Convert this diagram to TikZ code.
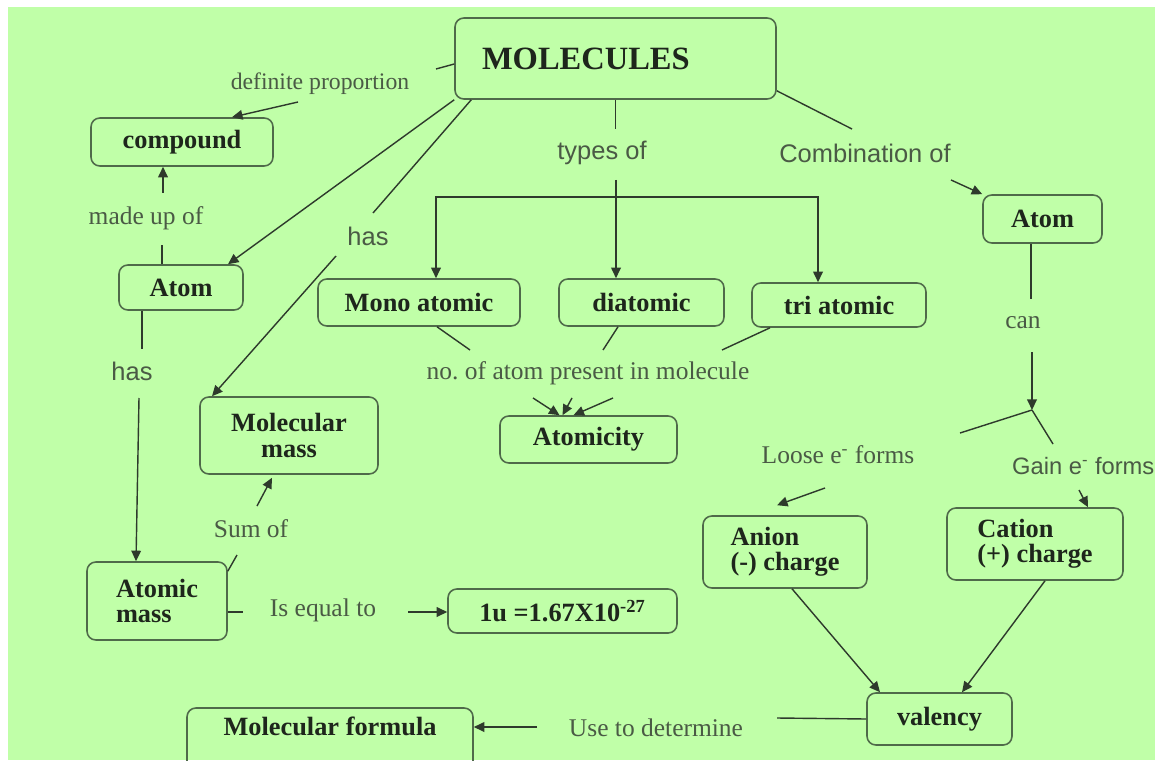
\documentclass[tikz,border=0pt]{standalone}
\usepackage{fontspec}
\setmainfont{Liberation Serif}
\setsansfont{Liberation Sans}
\usetikzlibrary{arrows.meta,positioning,calc}
\definecolor{leaf}{HTML}{C0FFA8}
\definecolor{boxline}{HTML}{4F6A4A}
\definecolor{wire}{HTML}{2E3A2C}
\definecolor{linktext}{HTML}{4A5A45}
\definecolor{boxtext}{HTML}{1E261C}
\tikzset{
  conceptbox/.style={
    rectangle, rounded corners=5pt, draw=boxline, line width=0.9pt,
    font=\fontsize{15}{14.5}\selectfont\bfseries, text=boxtext,
    align=center, inner sep=3pt
  },
  linklabel/.style={
    font=\fontsize{14.5}{16}\selectfont, text=linktext, inner sep=1pt
  },
  sanslabel/.style={
    linklabel, font=\fontsize{14.5}{16}\selectfont\sffamily
  },
  linkline/.style={draw=wire, line width=0.8pt},
  linkarrow/.style={
    -{Triangle[length=6pt,width=5.5pt]}, draw=wire, line width=0.8pt
  },
}

\begin{document}
\begin{tikzpicture}[x=0.02cm, y=-0.02cm]
  \clip (0,0) rectangle (1155,760);
  \fill[white] (0,0) rectangle (1155,760);
  \fill[leaf] (8,7) rectangle (1155,760);
  % concept boxes
  \node[conceptbox, font=\fontsize{18.5}{20}\selectfont\bfseries, text width=5.34cm,
        inner xsep=0.54cm, align=left, minimum height=1.62cm] (mol) at (615.5,58.5) {MOLECULES};
  \node[conceptbox, minimum width=3.64cm, minimum height=0.96cm] (compound) at (182,142) {compound};
  \node[conceptbox, minimum width=2.48cm, minimum height=0.9cm] (atomL) at (181,287.5) {Atom};
  \node[conceptbox, minimum width=4.04cm, minimum height=0.94cm] (mono) at (419,302.5) {Mono atomic};
  \node[conceptbox, minimum width=3.3cm, minimum height=0.94cm] (di) at (641.5,302.5) {diatomic};
  \node[conceptbox, minimum width=3.48cm, minimum height=0.88cm] (tri) at (839,305) {tri atomic};
  \node[conceptbox, minimum width=2.38cm, minimum height=0.96cm] (atomR) at (1042.5,219) {Atom};
  \node[conceptbox, minimum width=3.54cm, minimum height=0.94cm] (atomicity) at (588.5,439.5) {Atomicity};
  \node[conceptbox, minimum width=3.56cm, minimum height=1.54cm] (molmass) at (289,435.5) {Molecular\\mass};
  \node[conceptbox, align=left, minimum width=2.8cm, minimum height=1.56cm] (atommass) at (157,601) {Atomic\\mass};
  \node[conceptbox, minimum width=4.58cm, minimum height=0.88cm] (unit) at (562.5,611) {1u =1.67X10\textsuperscript{-27}};
  \node[conceptbox, align=left, minimum width=3.28cm, minimum height=1.44cm] (anion) at (785,552) {Anion\\(-) charge};
  \node[conceptbox, align=left, minimum width=3.52cm, minimum height=1.44cm] (cation) at (1035,544) {Cation\\(+) charge};
  \node[conceptbox, minimum width=2.9cm, minimum height=1.04cm] (valency) at (939.5,719) {valency};
  \node[conceptbox, minimum width=5.72cm, minimum height=1.24cm, text depth=0.5cm] (molform) at (330,739) {Molecular formula};
  % link labels
  \node[linklabel, font=\fontsize{13.5}{15}\selectfont] (defprop) at (320,84) {definite proportion};
  \node[linklabel] (madeup) at (146,218) {made up of};
  \node[sanslabel] (hasR) at (368,236) {has};
  \node[sanslabel] (typesof) at (602,153) {types of};
  \node[sanslabel] (combof) at (865,153) {Combination of};
  \node[linklabel] (can) at (1023,323) {can};
  \node[sanslabel] (hasL) at (132,371) {has};
  \node[linklabel] (noatom) at (588,373) {no.\ of atom present in molecule};
  \node[linklabel] (sumof) at (251,529) {Sum of};
  \node[linklabel] (isequal) at (323,610) {Is equal to};
  \node[linklabel] (loose) at (838,455) {Loose e\textsuperscript{-} forms};
  \node[sanslabel, font=\fontsize{13.5}{15}\selectfont\sffamily, anchor=west] (gain) at (1010,466) {Gain e\textsuperscript{-} forms};
  \node[linklabel] (usedet) at (656,728) {Use to determine};
  % free ends of the links
  \coordinate (dpA) at (436,69);   \coordinate (dpB) at (298,102);
  \coordinate (hasRA) at (373,213); \coordinate (hasRB) at (336,256);
  \coordinate (typesA) at (615.5,129); \coordinate (typesB) at (616,180);
  \coordinate (split) at (616,197);
  \coordinate (combA) at (852,129); \coordinate (combB) at (951,180);
  \coordinate (canA) at (1031,299); \coordinate (canB) at (1032,352);
  \coordinate (fork) at (1032,410);
  \coordinate (looseA) at (960,433); \coordinate (looseB) at (825,488);
  \coordinate (gainA) at (1053,444); \coordinate (gainB) at (1079,490);
  \coordinate (useA) at (777,718); \coordinate (useB) at (537,727);
  \coordinate (muA) at (162,245); \coordinate (muB) at (163,193);
  \coordinate (hasLA) at (142,349); \coordinate (hasLB) at (139,398);
  \coordinate (sumA) at (237,555); \coordinate (sumB) at (257,506);
  \coordinate (eqA) at (243,612); \coordinate (eqB) at (408,612);
  \coordinate (noA) at (470,350); \coordinate (noB) at (603,350);
  \coordinate (noC) at (722,350); \coordinate (noD) at (533,398);
  \coordinate (noE) at (572,398); \coordinate (noF) at (613,398);
  % links from MOLECULES
  \draw[linkline] ([yshift=-0.11cm]mol.west) -- (dpA);
  \draw[linkarrow] (dpB) -- ([xshift=1cm]compound.north);
  \draw[linkarrow] (mol.south west) -- ([xshift=0.94cm]atomL.north);
  \draw[linkline] ([xshift=0.34cm]mol.south west) -- (hasRA);
  \draw[linkarrow] (hasRB) -- ([xshift=-1.54cm]molmass.north);
  \draw[linkline] (mol.south) -- (typesA);
  \draw[linkarrow] (typesB) -- (di.north -| split);
  \draw[linkarrow] (split) -| ([xshift=0.34cm]mono.north);
  \draw[linkarrow] (split) -| ([xshift=-0.42cm]tri.north);
  \draw[linkline] ([yshift=0.18cm]mol.south east) -- (combA);
  \draw[linkarrow] (combB) -- (atomR.north west);
  % right branch
  \draw[linkline] (atomR.south -| canA) -- (canA);
  \draw[linkarrow] (canB) -- (fork);
  \draw[linkline] (fork) -- (looseA);
  \draw[linkline] (fork) -- (gainA);
  \draw[linkarrow] (looseB) -- ([xshift=-0.16cm, yshift=0.2cm]anion.north);
  \draw[linkarrow] (gainB) -- ([xshift=1.06cm]cation.north);
  \draw[linkarrow] ([xshift=0.14cm]anion.south) -- ([xshift=-1.19cm]valency.north);
  \draw[linkarrow] ([xshift=0.2cm]cation.south) -- ([xshift=0.45cm]valency.north);
  \draw[linkline] (valency.west) -- (useA);
  \draw[linkarrow] (useB) -- (molform.east |- useB);
  % left branch
  \draw[linkline] (atomL.north -| muA) -- (muA);
  \draw[linkarrow] (muB) -- (compound.south -| muB);
  \draw[linkline] (atomL.south -| hasLA) -- (hasLA);
  \draw[linkarrow] (hasLB) -- ([xshift=-0.42cm]atommass.north);
  \draw[linkline] ([yshift=-0.2cm]atommass.north east) -- (sumA);
  \draw[linkarrow] (sumB) -- ([xshift=-0.34cm, yshift=-0.06cm]molmass.south);
  \draw[linkline] (atommass.east |- eqA) -- (eqA);
  \draw[linkarrow] (eqB) -- (unit.west |- eqB);
  % atomicity
  \draw[linkline] ([xshift=0.36cm]mono.south) -- (noA);
  \draw[linkline] ([xshift=-0.47cm]di.south) -- (noB);
  \draw[linkline] ([xshift=-1.38cm]tri.south) -- (noC);
  \draw[linkarrow] (noD) -- ([xshift=-0.58cm]atomicity.north);
  \draw[linkarrow] (noE) -- ([xshift=-0.52cm]atomicity.north);
  \draw[linkarrow] (noF) -- ([xshift=-0.3cm]atomicity.north);
\end{tikzpicture}
\end{document}
